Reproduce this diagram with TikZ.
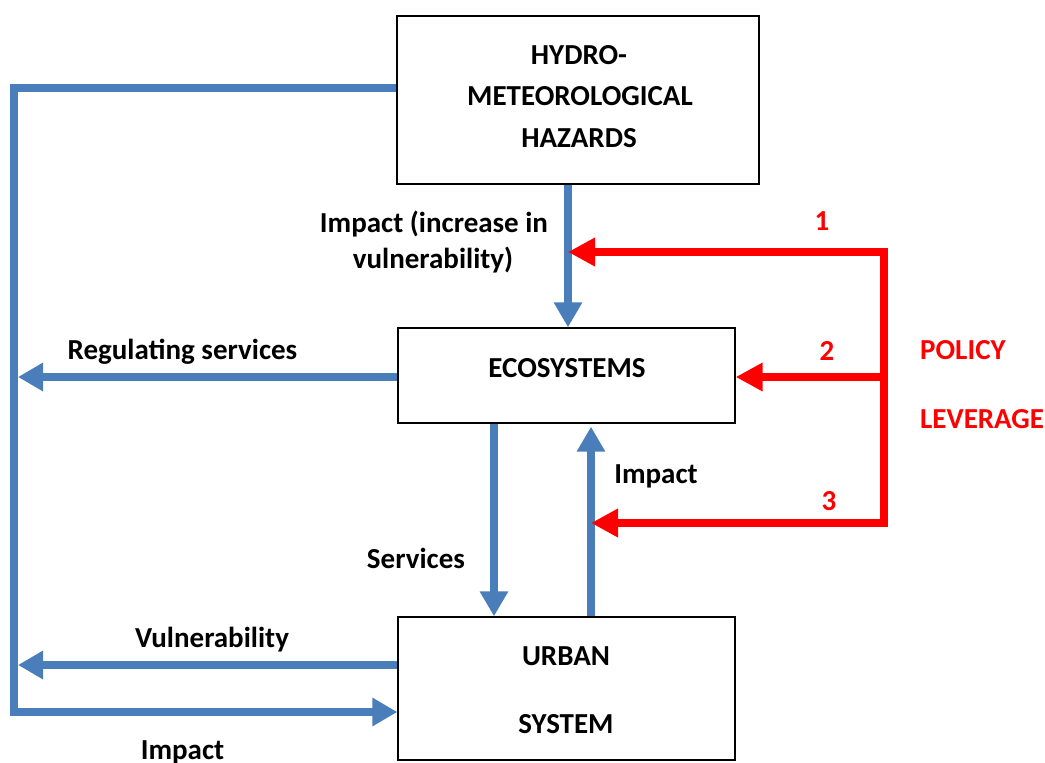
\documentclass[tikz,border=0pt]{standalone}
\usepackage{fontspec}
\setmainfont{Carlito}
\usetikzlibrary{arrows.meta}
\definecolor{cblue}{RGB}{74,126,187}
\definecolor{cred}{RGB}{255,0,0}
\tikzset{
  box/.style={draw=black, line width=1.4pt, inner sep=0pt, fill=white},
  lbl/.style={anchor=base, inner sep=0pt, font=\fontsize{29}{35}\selectfont\bfseries, text=black},
  rlbl/.style={lbl, text=cred},
  bline/.style={draw=cblue, line width=8.5pt, line join=miter},
  barrow/.style={bline, -{Triangle[length=25pt,width=27pt]}},
  rline/.style={draw=cred, line width=8.5pt, line join=miter},
  rarrow/.style={rline, -{Triangle[length=27pt,width=27pt]}},
}
\begin{document}
\begin{tikzpicture}[x=1pt,y=-1pt]
\useasboundingbox (0,0) rectangle (1045,763);
% boxes
\node[box, minimum width=362pt, minimum height=168pt] (hyd) at (578,100) {};
\node[box, minimum width=337pt, minimum height=95pt] (eco) at (566.5,375.5) {};
\node[box, minimum width=337pt, minimum height=143pt] (urb) at (566.5,688.5) {};
% box texts
\node[lbl] (h1) at (579,64) {HYDRO-};
\node[lbl] (h2) at (580,105) {METEOROLOGICAL};
\node[lbl] (h3) at (579,147) {HAZARDS};
\node[lbl] (ecot) at (567,377) {ECOSYSTEMS};
\node[lbl] (u1) at (566,665) {URBAN};
\node[lbl] (u2) at (566,733) {SYSTEM};
% coordinates
\coordinate (busT) at (14,88);
\coordinate (busB) at (14,712);
\coordinate (regT) at (18,377);
\coordinate (vulT) at (18,665);
\coordinate (r1tip) at (568,252);
\coordinate (rmid) at (884,377);
\coordinate (rbot) at (884,523);
\coordinate (r3tip) at (591,523);
% blue connectors
\draw[barrow] (hyd.west |- busT) -- (busT) -- (busB) -- (urb.west |- busB);
\draw[barrow] (eco.west |- regT) -- (regT);
\draw[barrow] (urb.west |- vulT) -- (vulT);
\draw[barrow] (hyd.south -| r1tip) -- (eco.north -| r1tip);
\draw[barrow] (eco.south -| 494,0) -- (urb.north -| 494,0);
\draw[barrow, shorten >=3pt] (urb.north -| r3tip) -- (eco.south -| r3tip);
% red connectors
\draw[rline, {Triangle[length=27pt,width=27pt]}-{Triangle[length=27pt,width=27pt]}] (r1tip) -| (rbot) -- (r3tip);
\draw[rarrow] (rmid) -- (eco.east |- rmid);
% labels
\node[lbl] (l1a) at (434,232) {Impact (increase in};
\node[lbl] (l1b) at (433,268) {vulnerability)};
\node[lbl] (lreg) at (182.5,359) {Regulating services};
\node[lbl] (limp) at (656,483) {Impact};
\node[lbl] (lser) at (416,568) {Services};
\node[lbl] (lvul) at (212,647) {Vulnerability};
\node[lbl] (limp2) at (182.5,759) {Impact};
\node[rlbl] (n1) at (822,230) {1};
\node[rlbl] (n2) at (827,360) {2};
\node[rlbl] (n3) at (829,510) {3};
\node[rlbl, anchor=base west] (pol) at (920,359) {POLICY};
\node[rlbl, anchor=base west] (lev) at (920,428) {LEVERAGE};
\end{tikzpicture}
\end{document}
